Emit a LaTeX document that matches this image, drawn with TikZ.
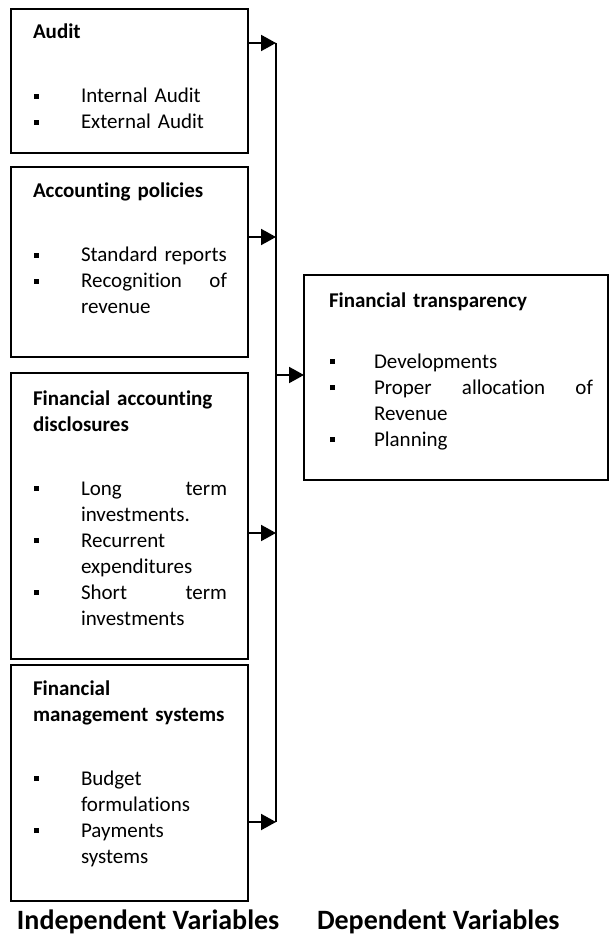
\documentclass[tikz,border=0pt]{standalone}
\usepackage{fontspec}
\setmainfont{Carlito}[Ligatures=NoCommon]
\usetikzlibrary{arrows.meta,positioning}

\newlength{\bulw}
\setlength{\bulw}{24pt}
\newcommand{\bitem}{\makebox[\bulw][l]{\hspace{0.5pt}\rule[2pt]{2.7pt}{2.7pt}}}
\newcommand{\bcont}{\hspace*{\bulw}}

\begin{document}
\begin{tikzpicture}[>={Triangle[length=7.5pt,width=8pt]}, line width=1pt]
    \tikzstyle{box}=[rectangle,draw,outer sep=0pt,inner sep=0pt,minimum width=118.5pt]
    \tikzstyle{txt}=[anchor=base west,inner sep=0pt,text width=97pt,align=left,font=\fontsize{10.5}{13}\selectfont]
    \tikzstyle{caption}=[anchor=base west,inner sep=0pt,font=\fontsize{14}{17}\selectfont\bfseries]
    \useasboundingbox (0,0) rectangle (304.5pt,-467.5pt);
    % independent variables
    \node[box,minimum height=72pt,anchor=north west] (audit) at (5.5pt,-4.5pt) {};
    \node[box,minimum height=95pt,below=7pt of audit] (policies) {};
    \node[box,minimum height=143pt,below=8pt of policies] (disclosures) {};
    \node[box,minimum height=118pt,below=3pt of disclosures] (mgmt) {};
    % dependent variable
    \node[box,minimum width=152pt,minimum height=102.5pt,anchor=north west] (transp) at (152pt,-137.5pt) {};

    \node[txt] (audittxt) at ([xshift=10.5pt,yshift=-15pt]audit.north west)
        {\textbf{Audit}\\[19pt]\bitem Internal Audit\\\bitem External Audit};
    \node[txt] (policiestxt) at ([xshift=10.5pt,yshift=-15.5pt]policies.north west)
        {\textbf{Accounting policies}\\[19pt]\bitem Standard reports\\\bitem Recognition\hfill of\\\bcont revenue};
    \node[txt] (disclosurestxt) at ([xshift=10.5pt,yshift=-16pt]disclosures.north west)
        {\textbf{Financial accounting}\\\textbf{disclosures}\\[19pt]\bitem Long\hfill term\\\bcont investments.\\\bitem Recurrent\\\bcont expenditures\\\bitem Short\hfill term\\\bcont investments};
    \node[txt] (mgmttxt) at ([xshift=10.5pt,yshift=-15pt]mgmt.north west)
        {\textbf{Financial}\\\textbf{management systems}\\[19pt]\bitem Budget\\\bcont formulations\\\bitem Payments\\\bcont systems};
    \node[txt,text width=132pt] (transptxt) at ([xshift=12pt,yshift=-16pt]transp.north west)
        {\setlength{\bulw}{22.5pt}\textbf{Financial transparency}\\[17.5pt]\bitem Developments\\\bitem Proper\hfill allocation\hfill of\\\bcont Revenue\\\bitem Planning};

    % the collecting line
    \coordinate (b1) at (138pt,-21.5pt);
    \coordinate (b2) at (138pt,-118.5pt);
    \coordinate (b3) at (138pt,-266.5pt);
    \coordinate (b4) at (138pt,-411pt);
    \coordinate (b5) at (138pt,-187.5pt);
    \draw (b1) -- (b4);
    \draw[->] (audit.east |- b1) -- (b1);
    \draw[->] (policies.east |- b2) -- (b2);
    \draw[->] (disclosures.east |- b3) -- (b3);
    \draw[->] (mgmt.east |- b4) -- (b4);
    \draw[->] (b5) -- (transp.west |- b5);

    \node[caption] (indep) at (8pt,-464.5pt) {Independent Variables};
    \node[caption] (dep) at (158pt,-464.5pt) {Dependent Variables};
\end{tikzpicture}
\end{document}
